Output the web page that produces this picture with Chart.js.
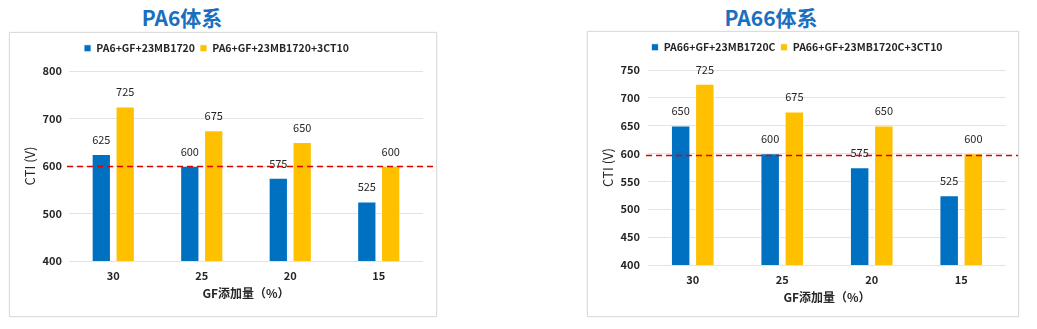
<!DOCTYPE html>
<html>
<head>
<meta charset="utf-8">
<script src="https://cdn.jsdelivr.net/npm/chart.js@4"></script>
<style>
  html, body { margin: 0; padding: 0; background: #fff; }
  body { width: 1037px; height: 329px; position: relative; overflow: hidden;
         font-family: 'Noto Sans CJK SC', 'Noto Sans', sans-serif; }
  .titulo { position: absolute; top: 4px; height: 26px; line-height: 26px; text-align: center;
            font-size: 21px; font-weight: bold; color: #1a70be; }
  .marco { position: absolute; border: 1px solid #dcdcdc; box-shadow: 0 0 2px rgba(0,0,0,0.08);
           box-sizing: border-box; background: #fff; }
  .marco canvas { position: absolute; left: 0; top: 0; }
</style>
</head>
<body>
<div class="titulo" style="left:82px;width:200px">PA6体系</div>
<div class="titulo" style="left:671px;width:200px">PA66体系</div>
<div class="marco" style="left:9px;top:32px;width:428px;height:285px"><canvas id="chartPA6"></canvas></div>
<div class="marco" style="left:587px;top:31px;width:432px;height:286px"><canvas id="chartPA66"></canvas></div>
<script>
const FONT = "'Noto Sans CJK SC', 'Noto Sans', sans-serif";

// categorías: contenido de GF (%)
const gfLabels = ['30', '25', '20', '15'];

// PA6
const pa6Names = ['PA6+GF+23MB1720', 'PA6+GF+23MB1720+3CT10'];
const pa6Base = [625, 600, 575, 525];
const pa6Ct10 = [725, 675, 650, 600];
const pa6Ticks = [400, 500, 600, 700, 800];
const pa6Limite = 600;

// PA66
const pa66Names = ['PA66+GF+23MB1720C', 'PA66+GF+23MB1720C+3CT10'];
const pa66Base = [650, 600, 575, 525];
const pa66Ct10 = [725, 675, 650, 600];
const pa66Ticks = [400, 450, 500, 550, 600, 650, 700, 750];
const pa66Limite = 597;

const colores = ['#0070c0', '#ffc000'];

// etiquetas de valor encima de cada barra
const etiquetas = {
    id: 'etiquetas',
    afterDatasetsDraw(chart) {
        const ctx = chart.ctx;
        ctx.save();
        ctx.font = '11px ' + FONT;
        ctx.fillStyle = '#262626';
        ctx.textAlign = 'center';
        ctx.textBaseline = 'middle';
        chart.data.datasets.forEach((ds, i) => {
            chart.getDatasetMeta(i).data.forEach((bar, j) => {
                ctx.fillText(ds.data[j], bar.x, bar.y - 14.5);
            });
        });
        ctx.restore();
    }
};

// línea discontinua roja del valor límite
const limite = {
    id: 'limite',
    afterDatasetsDraw(chart, args, opts) {
        const ctx = chart.ctx;
        const y = Math.round(chart.scales.y.getPixelForValue(opts.valor)) + 0.5;
        ctx.save();
        ctx.strokeStyle = '#e00000';
        ctx.lineWidth = 1.6;
        ctx.setLineDash([6, 4]);
        ctx.beginPath();
        ctx.moveTo(chart.chartArea.left - 2, y);
        ctx.lineTo(chart.width, y);
        ctx.stroke();
        ctx.restore();
    }
};

function crearGrafico(id, cfg) {
    const alturaLeyenda = {
        id: 'alturaLeyenda',
        beforeInit(chart) {
            const fit = chart.legend.fit;
            chart.legend.fit = function () {
                fit.bind(chart.legend)();
                this.height = cfg.leyenda;
            };
        }
    };
    return new Chart(document.getElementById(id), {
        type: 'bar',
        data: {
            labels: gfLabels,
            datasets: cfg.series.map((s, i) => ({
                label: cfg.nombres[i],
                data: s,
                backgroundColor: colores[i],
                borderColor: '#ffffff',
                borderWidth: 0.8,
                barPercentage: 0.79,
                categoryPercentage: 0.54
            }))
        },
        options: {
            responsive: false,
            animation: false,
            layout: { padding: { top: 5, right: cfg.derecha, bottom: 0, left: 0 } },
            plugins: {
                legend: {
                    position: 'top',
                    labels: {
                        boxWidth: 7, boxHeight: 7, padding: 5,
                        color: '#262626',
                        font: { family: FONT, size: 10.5, weight: 'bold' }
                    }
                },
                tooltip: { enabled: false },
                limite: { valor: cfg.limite }
            },
            scales: {
                x: {
                    grid: { display: false, drawTicks: false },
                    border: { display: false },
                    ticks: { color: '#262626', padding: 8, font: { family: FONT, size: 11, weight: 'bold' } },
                    title: {
                        display: true, text: 'GF添加量（%）', color: '#262626',
                        padding: { top: 0, bottom: cfg.tituloX },
                        font: { family: FONT, size: 12, weight: 'bold' }
                    },
                    afterFit(s) { s.height = cfg.altoX; }
                },
                y: {
                    min: cfg.ticks[0],
                    max: cfg.ticks[cfg.ticks.length - 1],
                    afterBuildTicks(s) { s.ticks = cfg.ticks.map(v => ({ value: v })); },
                    grid: { color: '#e3e3e3', drawTicks: false },
                    border: { display: false },
                    ticks: { color: '#262626', padding: cfg.padY, font: { family: FONT, size: 11, weight: 'bold' } },
                    title: {
                        display: true, text: 'CTI (V)', color: '#262626',
                        padding: { top: 12, bottom: 0 },
                        font: { family: FONT, size: 13 }
                    },
                    afterFit(s) { s.width = cfg.anchoY; }
                }
            }
        },
        plugins: [alturaLeyenda, etiquetas, limite]
    });
}

const c6 = document.getElementById('chartPA6');
c6.width = 426; c6.height = 283;
const c66 = document.getElementById('chartPA66');
c66.width = 430; c66.height = 284;

crearGrafico('chartPA6', {
    nombres: pa6Names, series: [pa6Base, pa6Ct10], ticks: pa6Ticks, limite: pa6Limite,
    leyenda: 33, derecha: 13, anchoY: 59, padY: 7, altoX: 55, tituloX: 15
});
crearGrafico('chartPA66', {
    nombres: pa66Names, series: [pa66Base, pa66Ct10], ticks: pa66Ticks, limite: pa66Limite,
    leyenda: 33, derecha: 12, anchoY: 60, padY: 8, altoX: 51, tituloX: 11
});
</script>
</body>
</html>
